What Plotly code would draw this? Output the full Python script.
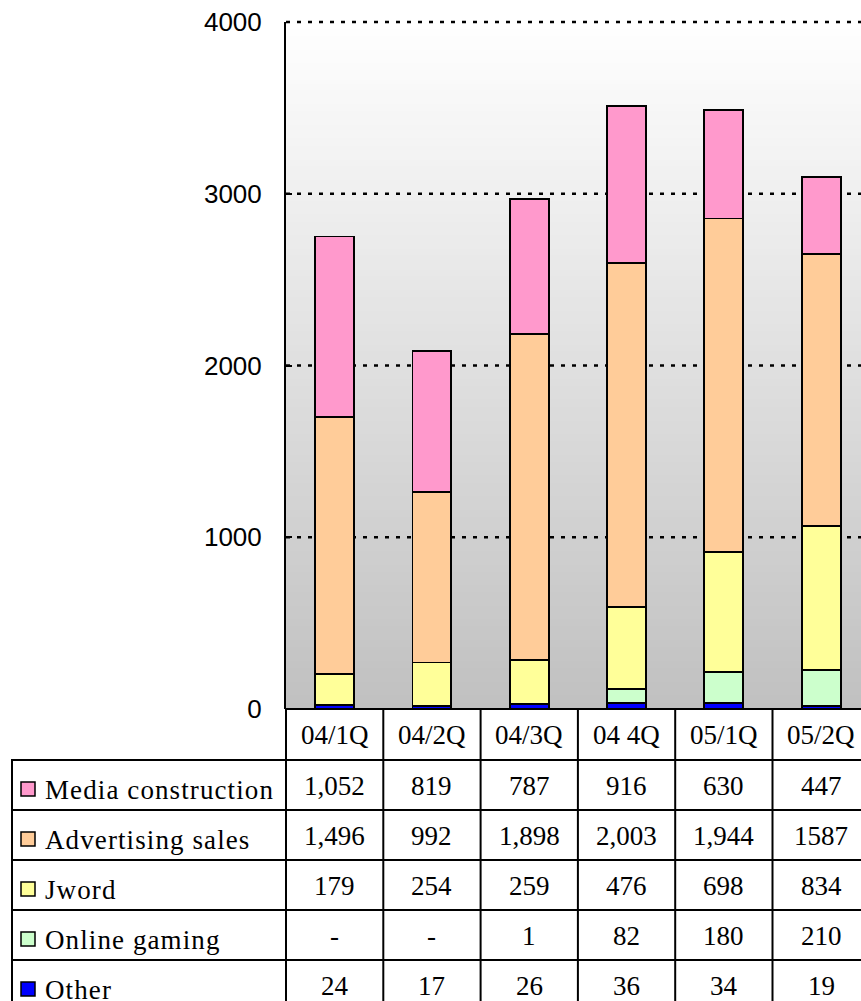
import plotly.graph_objects as go

# ---- data (as printed in the table) ----
quarters = ["04/1Q", "04/2Q", "04/3Q", "04 4Q", "05/1Q", "05/2Q"]
media_construction = ["1,052", "819", "787", "916", "630", "447"]
advertising_sales = ["1,496", "992", "1,898", "2,003", "1,944", "1587"]
jword = ["179", "254", "259", "476", "698", "834"]
online_gaming = ["-", "-", "1", "82", "180", "210"]
other = ["24", "17", "26", "36", "34", "19"]
y_ticks = [0, 1000, 2000, 3000, 4000]

series_names = ["Media construction", "Advertising sales", "Jword", "Online gaming", "Other"]
series_text = [media_construction, advertising_sales, jword, online_gaming, other]
series_colors = ["#FF99CC", "#FFCC99", "#FFFF99", "#CCFFCC", "#0000FF"]


def to_value(s):
    return 0.0 if s.strip() == "-" else float(s.replace(",", ""))


# ---- page geometry ----
W, H = 861, 1001
ML, MT, MB = 286, 22, 292
PW = W - ML
PH = H - MT - MB
Y_MAX = 4000
COL_PITCH = 97.3
X_MIN = -0.5
X_MAX = X_MIN + PW / COL_PITCH

HEADER_H = 51
ROW_H = 50
TABLE_LEFT = 12
LINE_W = 2


def px_x(p):
    return (p - ML) / PW


def px_y(p):
    return (H - MB - p) / PH


fig = go.Figure()

# stacked bars, bottom series first
for name, txt, col in reversed(list(zip(series_names, series_text, series_colors))):
    fig.add_trace(go.Bar(
        x=list(range(len(quarters))),
        y=[to_value(s) for s in txt],
        name=name,
        marker=dict(color=col, line=dict(color="black", width=1.9)),
        width=0.4,
        showlegend=False,
    ))

shapes = []

# vertical background gradient: light at the top, grey at the bottom
n_bands = 100
for i in range(n_bands):
    f0 = i / n_bands
    f1 = (i + 1) / n_bands
    fm = (f0 + f1) / 2
    g = round(192 + (255 - 192) * fm)
    shapes.append(dict(type="rect", xref="paper", yref="paper",
                       x0=0, x1=1, y0=f0, y1=f1 + 0.002,
                       fillcolor=f"rgb({g},{g},{g})", line=dict(width=0),
                       layer="below"))

# dotted grid lines
for v in y_ticks[1:]:
    shapes.append(dict(type="line", xref="paper", yref="paper",
                       x0=0, x1=1, y0=v / Y_MAX, y1=v / Y_MAX,
                       line=dict(color="black", width=2.5, dash="4px,7px"),
                       layer="below"))

# ---- data table under the plot ----
table_top = H - MB
header_bottom = table_top + HEADER_H
row_edges = [header_bottom + k * ROW_H for k in range(len(series_names) + 1)]
table_bottom = row_edges[-1]

# horizontal rules
shapes.append(dict(type="line", xref="paper", yref="paper",
                   x0=px_x(ML - 1), x1=px_x(W + 2),
                   y0=px_y(table_top), y1=px_y(table_top),
                   line=dict(color="black", width=LINE_W)))
for ye in row_edges:
    shapes.append(dict(type="line", xref="paper", yref="paper",
                       x0=px_x(TABLE_LEFT - 1), x1=px_x(W + 2),
                       y0=px_y(ye), y1=px_y(ye),
                       line=dict(color="black", width=LINE_W)))

# vertical rules
shapes.append(dict(type="line", xref="paper", yref="paper",
                   x0=px_x(TABLE_LEFT), x1=px_x(TABLE_LEFT),
                   y0=px_y(header_bottom), y1=px_y(table_bottom),
                   line=dict(color="black", width=LINE_W)))
for k in range(len(quarters) + 1):
    xp = ML + k * COL_PITCH
    shapes.append(dict(type="line", xref="paper", yref="paper",
                       x0=px_x(xp), x1=px_x(xp),
                       y0=px_y(table_top), y1=px_y(table_bottom),
                       line=dict(color="black", width=LINE_W)))

annotations = []
serif = dict(family="Liberation Serif, Times New Roman, serif", size=27, color="black")

# header row with quarter names
for i, q in enumerate(quarters):
    annotations.append(dict(x=px_x(ML + (i + 0.5) * COL_PITCH), y=px_y(table_top + HEADER_H / 2),
                            xref="paper", yref="paper", text=q, showarrow=False,
                            xanchor="center", yanchor="middle", font=serif))

# series rows: legend key, name and values
for r, (name, txt, col) in enumerate(zip(series_names, series_text, series_colors)):
    yc = row_edges[r] + ROW_H / 2
    shapes.append(dict(type="rect", xref="paper", yref="paper",
                       x0=px_x(21), x1=px_x(35),
                       y0=px_y(yc + 4 - 7), y1=px_y(yc + 4 + 7),
                       fillcolor=col, line=dict(color="black", width=1.5)))
    annotations.append(dict(x=px_x(43), y=px_y(yc + 5), xref="paper", yref="paper",
                            text=f"<span style='letter-spacing:1.1px'>{name}</span>",
                            showarrow=False, xanchor="left", yanchor="middle", font=serif))
    for i, s in enumerate(txt):
        annotations.append(dict(x=px_x(ML + (i + 0.5) * COL_PITCH), y=px_y(yc + 1),
                                xref="paper", yref="paper", text=s, showarrow=False,
                                xanchor="center", yanchor="middle", font=serif))

fig.update_layout(
    width=W, height=H,
    margin=dict(l=ML, r=0, t=MT, b=MB, pad=0, autoexpand=False),
    paper_bgcolor="white",
    plot_bgcolor="#C0C0C0",
    barmode="stack",
    showlegend=False,
    shapes=shapes,
    annotations=annotations,
    xaxis=dict(range=[X_MIN, X_MAX], showticklabels=False, showgrid=False,
               zeroline=False, showline=False, ticks="", fixedrange=True),
    yaxis=dict(range=[0, Y_MAX], tickvals=y_ticks, ticktext=[str(v) for v in y_ticks],
               showgrid=False, zeroline=False, showline=True, linecolor="black",
               linewidth=2, ticks="inside", ticklen=6, tickwidth=2, tickcolor="black",
               ticklabelstandoff=17,
               tickfont=dict(family="Liberation Sans, Arial, sans-serif", size=26, color="black"),
               fixedrange=True),
)

fig.write_html("out.html", config={"displayModeBar": False})
